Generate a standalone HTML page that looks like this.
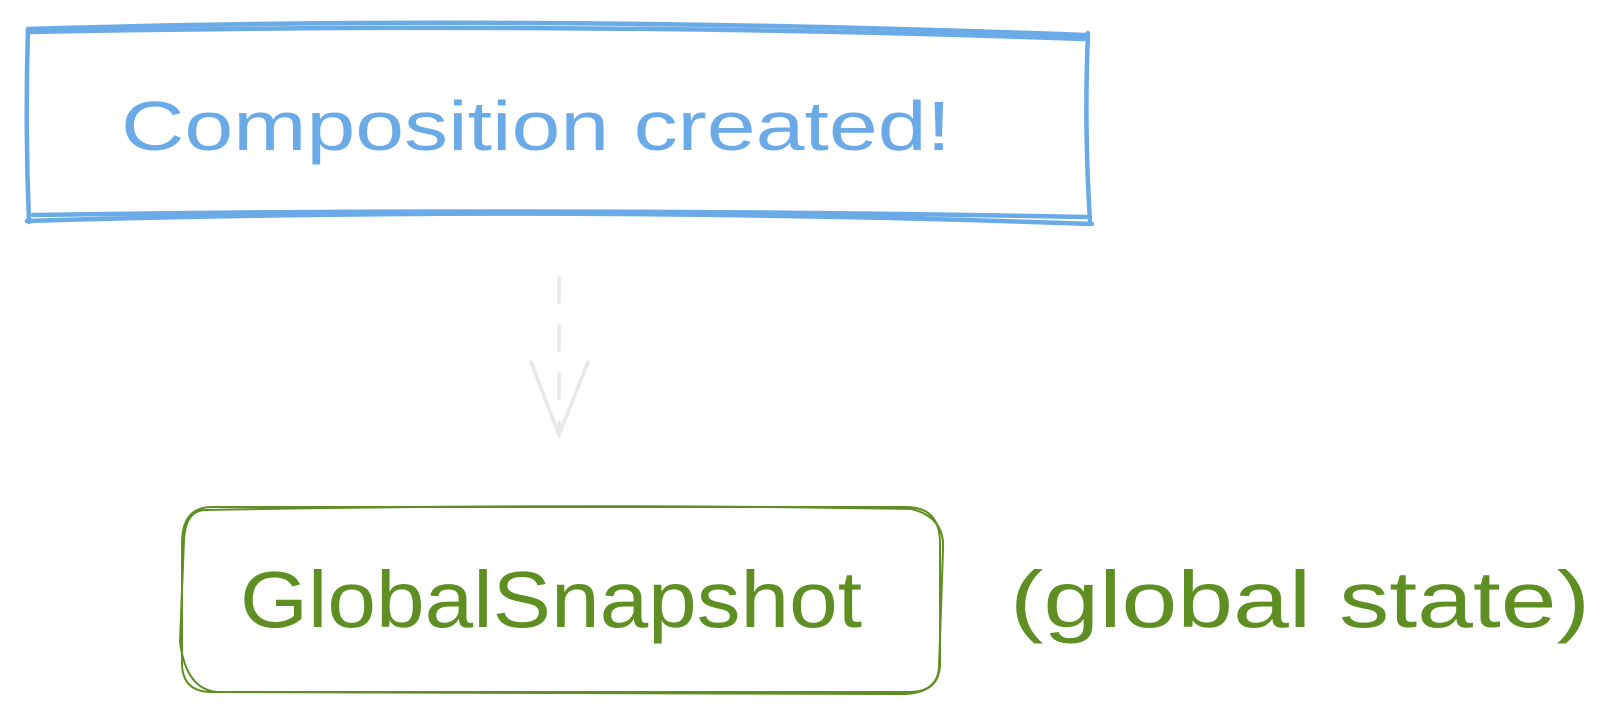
<!DOCTYPE html>
<html><head><meta charset="utf-8"><style>
html,body{margin:0;padding:0;background:#fff;width:1624px;height:724px;overflow:hidden}
svg{display:block}
text{font-family:"Liberation Sans",sans-serif}
</style></head><body>
<svg width="1624" height="724" viewBox="0 0 1624 724" xmlns="http://www.w3.org/2000/svg">
<g fill="none" stroke="#6aaae6" stroke-width="4.5" stroke-linecap="round">
<path d="M28 29 Q520 14 1086 35"/>
<path d="M31 32 Q580 21 1084 39"/>
<path d="M28 29 Q25 125 29 222"/>
<path d="M1088 33 Q1084 125 1090 222"/>
<path d="M27 221 Q560 205 1092 224"/>
<path d="M33 215 Q560 207 1086 217"/>
</g>
<text x="536" y="150" text-anchor="middle" font-size="70" fill="#6aaae6" textLength="830" lengthAdjust="spacingAndGlyphs">Composition created!</text>
<g fill="none" stroke="#e8e8e8" stroke-width="3.5" stroke-linecap="round">
<path d="M559 278 V430" stroke-dasharray="24 24"/>
<path d="M531 362 L559 435 L588 362"/>
</g>
<g fill="none" stroke="#5f8f23" stroke-width="2">
<path d="M212 507 H906 Q940 507 940 543 V663 Q940 692 909 692 H212 Q182 692 182 663 V543 Q182 507 212 507 Z"/>
<path d="M207 510 Q560 503 912 509 Q945 518 943 549 L939 668 Q937 694 901 694 L218 692 Q186 690 180 642 L184 539 Q186 509 207 510"/>
</g>
<text x="551" y="627" text-anchor="middle" font-size="80" fill="#5f8f23" textLength="622" lengthAdjust="spacingAndGlyphs">GlobalSnapshot</text>
<text x="1300" y="627" text-anchor="middle" font-size="80" fill="#5f8f23" textLength="580" lengthAdjust="spacingAndGlyphs">(global state)</text>
</svg>
</body></html>
